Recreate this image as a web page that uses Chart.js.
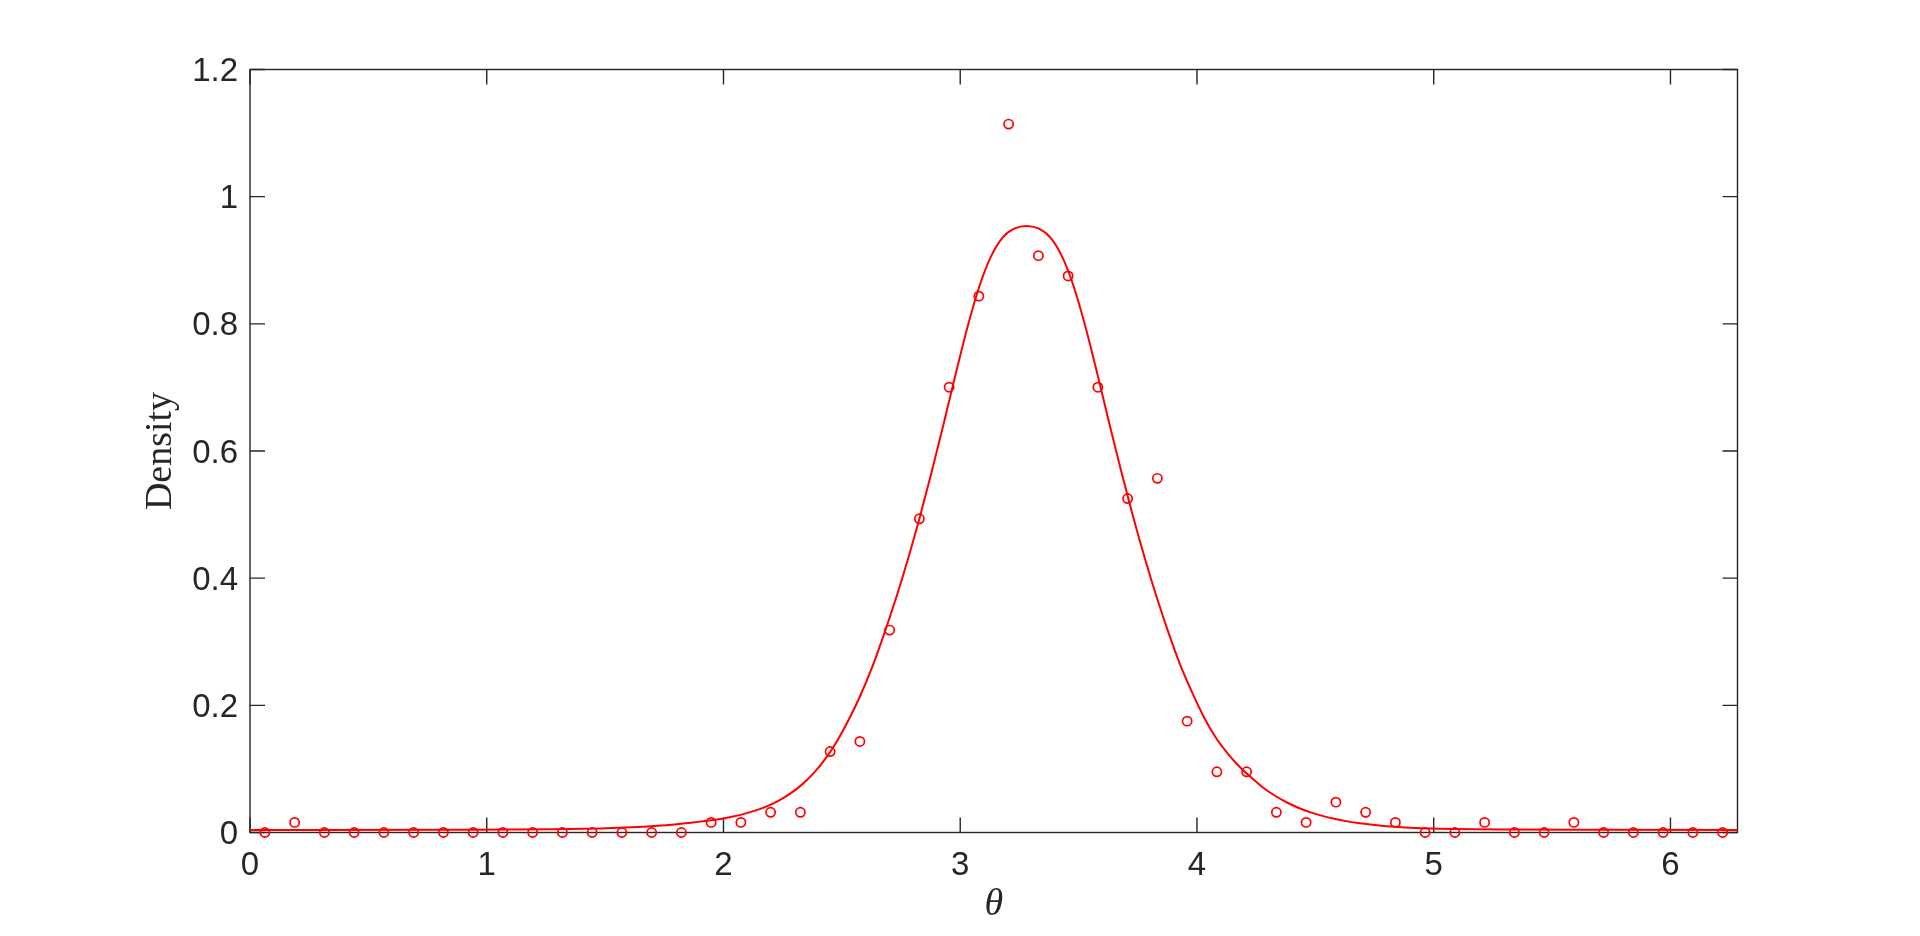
<!DOCTYPE html>
<html>
<head>
<meta charset="utf-8">
<title>Density</title>
<script src="https://cdn.jsdelivr.net/npm/chart.js@4.4.1/dist/chart.umd.min.js"></script>
<style>
  html, body { margin: 0; padding: 0; background: #ffffff; }
  #wrap { width: 1920px; height: 936px; }
</style>
</head>
<body>
<div id="wrap"><canvas id="myChart" width="1920" height="936"></canvas></div>
<script>
// bin centres of the histogram (50 bins over 0..2pi)
const binCentres = [0.0628, 0.1885, 0.3142, 0.4398, 0.5655, 0.6912, 0.8168, 0.9425, 1.0681, 1.1938,
  1.3195, 1.4451, 1.5708, 1.6965, 1.8221, 1.9478, 2.0735, 2.1991, 2.3248, 2.4504,
  2.5761, 2.7018, 2.8274, 2.9531, 3.0788, 3.2044, 3.3301, 3.4558, 3.5814, 3.7071,
  3.8327, 3.9584, 4.0841, 4.2097, 4.3354, 4.4611, 4.5867, 4.7124, 4.8381, 4.9637,
  5.0894, 5.2150, 5.3407, 5.4664, 5.5920, 5.7177, 5.8434, 5.9690, 6.0947, 6.2204];

// empirical density (circles)
const binDensity = [0, 0.0159, 0, 0, 0, 0, 0, 0, 0, 0,
  0, 0, 0, 0, 0, 0.0159, 0.0159, 0.0318, 0.0318, 0.1273,
  0.1432, 0.3183, 0.4934, 0.7003, 0.8435, 1.1141, 0.9072, 0.8753, 0.7003, 0.5252,
  0.5570, 0.1751, 0.0955, 0.0955, 0.0318, 0.0159, 0.0477, 0.0318, 0.0159, 0,
  0, 0.0159, 0, 0, 0.0159, 0, 0, 0, 0, 0];

// fitted density curve
const fitTheta = [0, 0.28, 0.88, 1.28, 1.48, 1.58, 1.68, 1.78,
  1.88, 1.93, 1.98, 2.03, 2.08, 2.13, 2.18, 2.23, 2.28, 2.33, 2.38, 2.43, 2.48, 2.53,
  2.58, 2.63, 2.68, 2.73, 2.78, 2.83, 2.88, 2.93, 2.98, 3.03, 3.08, 3.13, 3.18, 3.23,
  3.28,
  3.33, 3.38, 3.43, 3.48, 3.53, 3.58, 3.63, 3.68, 3.73, 3.78, 3.83, 3.88, 3.93, 3.98,
  4.03, 4.08, 4.13, 4.18, 4.23, 4.28, 4.33, 4.38, 4.43, 4.48, 4.53, 4.58, 4.63, 4.68,
  4.78, 4.88, 4.98, 5.08, 5.28, 5.68, 6.2832];
const fitDensity = [0.004, 0.004, 0.0043, 0.0051, 0.0064, 0.0077, 0.0095, 0.0122,
  0.0162, 0.0183, 0.0209, 0.0243, 0.0285, 0.0340, 0.0408, 0.0495, 0.0607, 0.0749, 0.0929, 0.1157, 0.144, 0.178,
  0.217, 0.262, 0.314, 0.370, 0.431, 0.497, 0.568, 0.643, 0.720, 0.794, 0.858, 0.906, 0.936, 0.950,
  0.954,
  0.950, 0.936, 0.906, 0.858, 0.794, 0.720, 0.643, 0.568, 0.497, 0.431, 0.370, 0.314, 0.263, 0.220,
  0.181, 0.149, 0.1242, 0.1035, 0.0863, 0.0705, 0.0578, 0.0472, 0.0386, 0.0317, 0.0261, 0.0216, 0.0179, 0.0150,
  0.0106, 0.0080, 0.0064, 0.0055, 0.0047, 0.0042, 0.004];

// axis ticks
const xTicks = [0, 1, 2, 3, 4, 5, 6];
const yTicks = [0, 0.2, 0.4, 0.6, 0.8, 1, 1.2];

const axisColor = '#262626';
const red = '#ff0000';

//draw the box and the inward tick marks (matlab style)
const boxAxes = {
  id: 'boxAxes',
  beforeDatasetsDraw(chart) {
    const {ctx, chartArea: a, scales} = chart;
    const len = 15;
    ctx.save();
    ctx.strokeStyle = axisColor;
    ctx.lineWidth = 1.4;
    ctx.strokeRect(a.left, a.top, a.right - a.left, a.bottom - a.top);
    ctx.beginPath();
    xTicks.forEach(v => {
      const px = scales.x.getPixelForValue(v);
      ctx.moveTo(px, a.bottom); ctx.lineTo(px, a.bottom - len);
      ctx.moveTo(px, a.top); ctx.lineTo(px, a.top + len);
    });
    yTicks.forEach(v => {
      const py = scales.y.getPixelForValue(v);
      ctx.moveTo(a.left, py); ctx.lineTo(a.left + len, py);
      ctx.moveTo(a.right, py); ctx.lineTo(a.right - len, py);
    });
    ctx.stroke();
    ctx.restore();
  }
};

const fitData = fitTheta.map((t, i) => ({x: t, y: fitDensity[i]}));
const binData = binCentres.map((t, i) => ({x: t, y: binDensity[i]}));

const tickFont = { family: '"Liberation Sans", Arial, sans-serif', size: 33 };

const chartConfig = {
  type: 'scatter',
  data: {
    datasets: [
      {
        label: 'fit',
        data: fitData,
        showLine: true,
        borderColor: red,
        borderWidth: 2,
        pointRadius: 0,
        cubicInterpolationMode: 'monotone',
        fill: false,
        clip: false
      },
      {
        label: 'data',
        data: binData,
        showLine: false,
        pointStyle: 'circle',
        pointRadius: 4.6,
        pointBorderWidth: 1.7,
        pointBorderColor: red,
        pointBackgroundColor: 'rgba(0,0,0,0)',
        clip: false
      }
    ]
  },
  options: {
    responsive: false,
    animation: false,
    devicePixelRatio: 1,
    layout: { padding: { left: 0, top: 69.5, right: 182.5, bottom: 0 } },
    plugins: { legend: { display: false }, tooltip: { enabled: false } },
    scales: {
      x: {
        type: 'linear',
        min: 0,
        max: 6.2832,
        afterBuildTicks: s => { s.ticks = xTicks.map(v => ({value: v})); },
        afterFit: s => { s.height = 103.5; },
        grid: { display: false, drawTicks: false },
        border: { display: false },
        ticks: {
          color: axisColor,
          padding: 14,
          maxRotation: 0,
          font: tickFont,
          callback: v => String(v)
        },
        title: {
          display: true,
          text: 'θ',
          color: axisColor,
          padding: { top: 0, bottom: 8 },
          font: { family: '"Liberation Serif", "Times New Roman", serif', size: 38, style: 'italic' }
        }
      },
      y: {
        type: 'linear',
        min: 0,
        max: 1.2,
        afterBuildTicks: s => { s.ticks = yTicks.map(v => ({value: v})); },
        afterFit: s => { s.width = 250; },
        grid: { display: false, drawTicks: false },
        border: { display: false },
        ticks: {
          color: axisColor,
          padding: 12,
          labelOffset: 2.5,
          font: tickFont,
          callback: v => String(v)
        },
        title: {
          display: true,
          text: 'Density',
          color: axisColor,
          padding: { top: 138, bottom: 0 },
          font: { family: '"Liberation Serif", "Times New Roman", serif', size: 38 }
        }
      }
    }
  },
  plugins: [boxAxes]
};

//create chart
const myChart = new Chart(document.getElementById('myChart'), chartConfig);
</script>
</body>
</html>
